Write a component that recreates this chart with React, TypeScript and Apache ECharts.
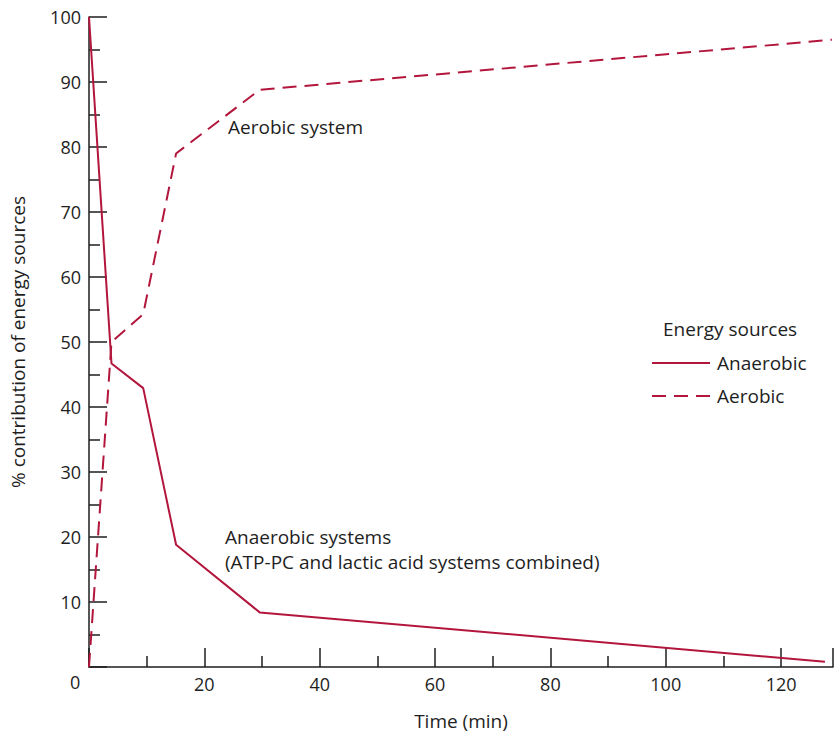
import React, { useEffect, useRef } from "react";
import * as echarts from "echarts";

const anaerobicX = [0, 3.9, 9.4, 15.1, 29.6, 127.6];
const anaerobicY = [100, 46.7, 42.9, 18.8, 8.4, 0.8];
const aerobicX = [0, 3.9, 9.4, 15.1, 29.6, 128.8];
const aerobicY = [0, 50, 54.3, 79, 88.8, 96.5];
const seriesNames = ["Anaerobic", "Aerobic"];
const legendTitle = "Energy sources";
const xAxisName = "Time (min)";
const yAxisName = "% contribution of energy sources";
const aerobicNote = "Aerobic system";
const anaerobicNote = ["Anaerobic systems", "(ATP-PC and lactic acid systems combined)"];

const FONT = "Open Sans";
const RED = "#b3163c";
const AXIS = "#1e1e1e";

export default function App() {
  const ref = useRef<HTMLDivElement>(null);
  useEffect(() => {
    if (!ref.current) return;
    const chart = echarts.init(ref.current, undefined, { renderer: "svg" });
    const toPairs = (xs: number[], ys: number[]) => xs.map((x, i) => [x, ys[i]]);
    chart.setOption({
      animation: false,
      backgroundColor: "#ffffff",
      textStyle: { fontFamily: FONT },
      grid: { left: 89, top: 17, width: 744, height: 650, containLabel: false, outerBoundsMode: "none" },
      xAxis: {
        type: "value",
        min: 0,
        max: 129,
        interval: 20,
        name: xAxisName,
        nameLocation: "middle",
        nameGap: 44,
        nameTextStyle: { fontSize: 19, color: AXIS, fontFamily: FONT },
        axisLine: { show: true, lineStyle: { color: AXIS, width: 1.5 } },
        axisTick: { show: true, inside: true, length: 19, lineStyle: { color: AXIS, width: 1.5 } },
        minorTick: { show: true, splitNumber: 2, length: 11, lineStyle: { color: AXIS, width: 1.5 } },
        axisLabel: {
          fontSize: 18,
          color: AXIS,
          margin: 8,
          fontFamily: FONT,
          showMaxLabel: false,
          formatter: (v: number) => (v === 0 || v % 20 !== 0 ? "" : String(v)),
        },
        splitLine: { show: false },
      },
      yAxis: {
        type: "value",
        min: 0,
        max: 100,
        interval: 10,
        name: yAxisName,
        nameLocation: "middle",
        nameGap: 62,
        nameTextStyle: { fontSize: 19, color: AXIS, fontFamily: FONT },
        axisLine: { show: true, lineStyle: { color: AXIS, width: 1.5 } },
        axisTick: { show: true, inside: true, length: 18, lineStyle: { color: AXIS, width: 1.5 } },
        minorTick: { show: true, splitNumber: 2, length: 11, lineStyle: { color: AXIS, width: 1.5 } },
        axisLabel: {
          fontSize: 18,
          color: AXIS,
          margin: 8,
          fontFamily: FONT,
          formatter: (v: number) => (v === 0 ? "" : String(v)),
        },
        splitLine: { show: false },
      },
      legend: {
        orient: "vertical",
        left: 651,
        top: 353,
        padding: 0,
        itemWidth: 58,
        itemHeight: 14,
        itemGap: 13,
        itemStyle: { color: "transparent", borderWidth: 0, opacity: 0 },
        textStyle: { fontSize: 19, lineHeight: 20, color: AXIS, fontFamily: FONT, padding: [0, 0, 0, 2] },
        data: seriesNames,
      },
      series: [
        {
          name: seriesNames[0],
          type: "line",
          data: toPairs(anaerobicX, anaerobicY),
          symbol: "none",
          lineStyle: { color: RED, width: 2, type: "solid" },
          itemStyle: { color: RED },
        },
        {
          name: seriesNames[1],
          type: "line",
          data: toPairs(aerobicX, aerobicY),
          symbol: "none",
          lineStyle: { color: RED, width: 2, type: [14, 8] },
          itemStyle: { color: RED },
        },
      ],
      graphic: [
        { type: "text", left: 70, top: 673, style: { text: "0", font: `18px "${FONT}"`, fill: AXIS } },
        { type: "text", left: 663, top: 319, style: { text: legendTitle, font: `19px "${FONT}"`, fill: AXIS } },
        { type: "text", left: 228, top: 117, style: { text: aerobicNote, font: `19px "${FONT}"`, fill: AXIS } },
        { type: "text", left: 225, top: 527, style: { text: anaerobicNote[0], font: `19px "${FONT}"`, fill: AXIS } },
        { type: "text", left: 225, top: 552, style: { text: anaerobicNote[1], font: `19px "${FONT}"`, fill: AXIS } },
      ],
    });
    return () => chart.dispose();
  }, []);
  return (
    <div
      ref={ref}
      style={{ position: "fixed", left: 0, top: 0, width: 834, height: 732, background: "#fff" }}
    />
  );
}
